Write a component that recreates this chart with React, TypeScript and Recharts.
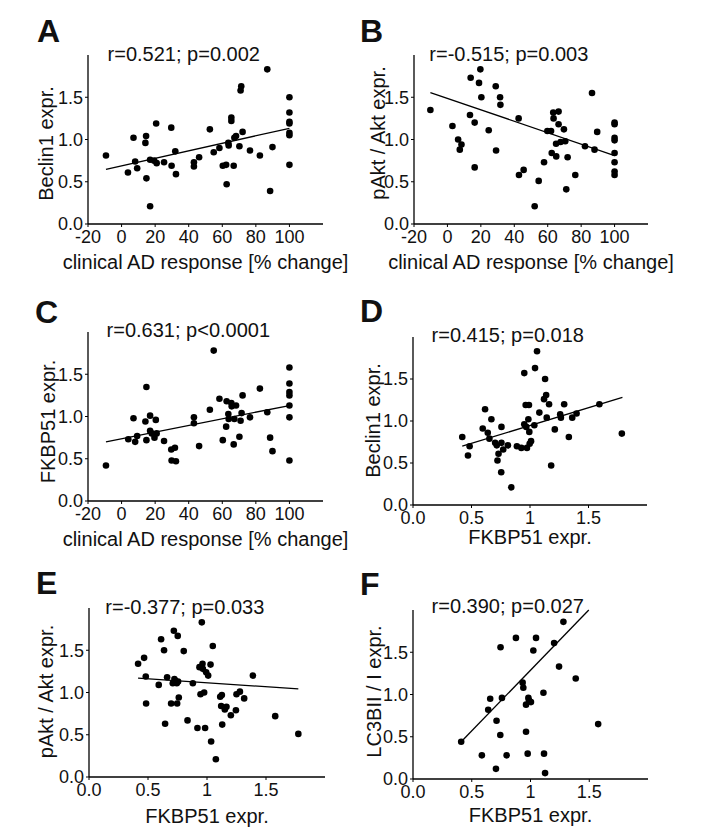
import { Scatter, ScatterChart, XAxis, YAxis } from 'recharts';

const FONT = '"Liberation Sans", Arial, Helvetica, sans-serif';
const INK = '#111';

// A: clinical AD response vs Beclin1
const responseA = [-9.3, 3.8, 7.1, 8.1, 9.3, 14.6, 14.2, 14.8, 17.0, 17.0, 19.4, 20.6, 20.9, 25.3, 29.6, 29.8, 32.0, 32.4, 43.1, 43.1, 46.2, 52.6, 54.9, 58.3, 60.3, 62.3, 62.6, 63.6, 63.8, 65.4, 65.4, 66.8, 67.2, 68.2, 70.2, 71.3, 70.9, 72.1, 76.5, 82.4, 86.8, 88.5, 89.9, 100, 100, 100, 100, 100, 100, 100];
const beclinA = [0.81, 0.61, 1.02, 0.74, 0.66, 1.04, 0.96, 0.54, 0.21, 0.76, 0.75, 1.19, 0.72, 0.73, 1.14, 0.69, 0.86, 0.59, 0.73, 0.68, 0.79, 1.12, 0.85, 0.9, 0.69, 0.7, 0.47, 0.96, 0.93, 1.26, 1.22, 0.69, 1.02, 1.04, 0.92, 1.63, 1.58, 1.09, 0.87, 0.81, 1.83, 0.39, 0.91, 1.5, 1.32, 1.21, 1.19, 1.08, 1.05, 0.7];
const fitXA = [-9.3, 100];
const fitYA = [0.647, 1.133];

// B: clinical AD response vs pAkt/Akt
const responseB = [-10.2, 3.0, 6.4, 7.4, 8.4, 13.5, 13.9, 16.3, 16.3, 18.9, 19.7, 20.3, 24.7, 28.9, 29.1, 31.5, 31.7, 42.6, 42.8, 45.6, 52.2, 54.6, 57.8, 59.8, 62.0, 62.4, 63.3, 63.5, 65.0, 65.1, 66.5, 66.5, 67.7, 69.7, 70.5, 71.1, 71.9, 76.5, 82.3, 86.5, 88.0, 89.6, 100, 100, 100, 100, 100, 100, 100, 100];
const paktB = [1.35, 1.16, 1.0, 0.88, 0.94, 1.29, 1.73, 1.2, 0.67, 1.67, 1.83, 1.5, 1.11, 1.63, 0.87, 1.5, 1.41, 1.25, 0.58, 0.64, 0.21, 0.51, 0.73, 1.1, 1.1, 0.84, 1.32, 1.25, 0.95, 0.8, 1.33, 1.18, 0.97, 1.12, 0.98, 0.41, 0.79, 0.58, 0.92, 1.55, 0.88, 1.09, 1.2, 1.18, 1.02, 0.99, 0.84, 0.73, 0.62, 0.58];
const fitXB = [-10.2, 100];
const fitYB = [1.556, 0.81];

// C: clinical AD response vs FKBP51
const responseC = [-9.3, 4.0, 7.1, 8.1, 9.3, 14.2, 14.8, 14.8, 17.0, 17.0, 18.0, 19.6, 20.4, 20.9, 25.3, 29.6, 29.8, 31.8, 32.4, 43.1, 43.1, 46.2, 52.6, 54.9, 58.3, 60.3, 62.3, 62.6, 63.6, 63.8, 65.4, 65.6, 66.8, 67.2, 68.2, 70.2, 70.9, 71.5, 72.1, 76.5, 82.4, 86.8, 88.5, 89.9, 100, 100, 100, 100, 100, 100, 100];
const fkbpC = [0.42, 0.73, 0.98, 0.7, 0.77, 0.94, 1.35, 0.72, 1.01, 0.83, 0.8, 0.75, 0.96, 0.8, 0.71, 0.61, 0.48, 0.63, 0.47, 0.99, 0.92, 0.65, 1.08, 1.78, 1.21, 0.72, 0.88, 1.18, 1.03, 0.97, 1.16, 1.12, 0.67, 0.97, 1.13, 0.76, 0.95, 1.04, 1.25, 0.99, 1.33, 1.05, 0.75, 0.59, 1.58, 1.39, 1.29, 1.25, 1.13, 0.99, 0.48];
const fitXC = [-9.3, 100];
const fitYC = [0.7, 1.13];

// D: FKBP51 vs Beclin1
const fkbpD = [0.421, 0.47, 0.484, 0.596, 0.616, 0.639, 0.653, 0.67, 0.702, 0.716, 0.722, 0.731, 0.754, 0.756, 0.756, 0.771, 0.811, 0.84, 0.888, 0.926, 0.951, 0.951, 0.963, 0.968, 0.974, 0.991, 0.986, 0.994, 0.997, 1.009, 1.037, 1.043, 1.06, 1.08, 1.12, 1.129, 1.138, 1.143, 1.163, 1.181, 1.212, 1.258, 1.264, 1.292, 1.332, 1.361, 1.398, 1.593, 1.785];
const beclinD = [0.81, 0.59, 0.7, 0.91, 1.14, 0.86, 0.79, 1.02, 0.74, 0.71, 0.53, 0.61, 0.39, 0.93, 0.74, 0.66, 0.71, 0.21, 0.7, 0.68, 1.57, 0.96, 1.19, 0.93, 0.68, 1.19, 1.02, 0.87, 0.73, 0.76, 0.95, 1.63, 1.83, 1.1, 1.26, 1.5, 1.31, 1.04, 1.2, 0.47, 0.9, 1.08, 1.04, 1.2, 0.81, 1.04, 1.09, 1.2, 0.85];
const fitXD = [0.421, 1.79];
const fitYD = [0.7, 1.28];

// E: FKBP51 vs pAkt/Akt
const fkbpE = [0.416, 0.467, 0.481, 0.484, 0.591, 0.611, 0.636, 0.645, 0.662, 0.696, 0.71, 0.719, 0.724, 0.73, 0.747, 0.752, 0.744, 0.755, 0.761, 0.803, 0.835, 0.88, 0.919, 0.936, 0.945, 0.956, 0.962, 0.965, 0.976, 0.984, 0.993, 1.01, 1.03, 1.035, 1.049, 1.075, 1.112, 1.12, 1.126, 1.129, 1.151, 1.165, 1.202, 1.245, 1.25, 1.279, 1.315, 1.389, 1.578, 1.774];
const paktE = [1.34, 1.41, 1.19, 0.87, 1.09, 1.63, 1.5, 0.63, 1.18, 0.87, 1.11, 1.73, 1.16, 1.14, 0.87, 1.67, 1.11, 1.13, 0.94, 1.49, 0.67, 1.11, 0.58, 1.3, 0.98, 1.83, 1.34, 1.28, 1.0, 0.58, 1.24, 1.2, 1.33, 0.42, 1.55, 0.21, 0.95, 0.84, 0.97, 0.62, 0.8, 0.83, 0.73, 0.79, 0.98, 1.01, 0.93, 1.2, 0.72, 0.51];
const fitXE = [0.416, 1.774];
const fitYE = [1.169, 1.043];

// F: FKBP51 vs LC3BII/I
const fkbpF = [0.41, 0.586, 0.64, 0.657, 0.706, 0.711, 0.743, 0.745, 0.757, 0.797, 0.876, 0.933, 0.939, 0.962, 0.962, 0.976, 0.982, 0.987, 1.004, 1.024, 1.047, 1.11, 1.115, 1.124, 1.201, 1.243, 1.28, 1.385, 1.576];
const lc3F = [0.44, 0.28, 0.82, 0.95, 0.12, 0.69, 0.52, 1.56, 0.96, 0.28, 1.67, 1.14, 1.08, 0.56, 0.88, 0.3, 0.96, 0.93, 0.91, 1.52, 1.67, 1.02, 0.3, 0.07, 1.61, 1.33, 1.86, 1.19, 0.65];
const fitXF = [0.41, 1.496];
const fitYF = [0.44, 2.0];

const responseTicks = [-20, 0, 20, 40, 60, 80, 100];
const fkbpTicks = [0, 0.5, 1, 1.5];
const exprTicks = [0, 0.5, 1, 1.5];

const toPoints = (xs: number[], ys: number[]) =>
  xs.slice(0, ys.length).map((x, i) => ({ x, y: ys[i] }));

function Dot(props: any) {
  const { cx, cy } = props;
  if (cx == null || cy == null) return <g />;
  return <circle cx={cx} cy={cy} r={3.3} fill="#000" />;
}

function NoDot() {
  return <g />;
}

interface Box {
  l: number;
  t: number;
  r: number;
  b: number;
}

interface PanelProps {
  box: Box;
  points: { x: number; y: number }[];
  fit: { x: number; y: number }[];
  xDomain: [number, number];
  xTicks: number[];
  xFormat: (v: number) => string;
  xLabel: string;
  xLabelBaseline: number;
}

const YW = 75;
const MT = 10;
const MR = 45;
const XH = 50;

function Panel({ box, points, fit, xDomain, xTicks, xFormat, xLabel, xLabelBaseline }: PanelProps) {
  const width = box.r - box.l + YW + MR;
  const height = box.b - box.t + MT + XH;
  const axisStyle = { stroke: '#000', strokeWidth: 1.3 };
  const tickStyle = { fill: INK, fontSize: 18, fontFamily: FONT };
  return (
    <div style={{ position: 'absolute', left: box.l - YW, top: box.t - MT }}>
      <ScatterChart width={width} height={height} margin={{ top: MT, right: MR, left: 0, bottom: 0 }}>
        <XAxis
          type="number"
          dataKey="x"
          domain={xDomain}
          ticks={xTicks}
          tickFormatter={xFormat}
          height={XH}
          axisLine={axisStyle}
          tickLine={{ stroke: '#000', strokeWidth: 1 }}
          tickSize={3}
          tickMargin={3}
          tick={tickStyle}
          label={{
            value: xLabel,
            position: 'insideBottom',
            offset: box.b + XH - xLabelBaseline,
            fill: INK,
            fontSize: 20,
            fontFamily: FONT,
          }}
        />
        <YAxis
          type="number"
          dataKey="y"
          domain={[0, 2]}
          ticks={exprTicks}
          tickFormatter={(v: number) => v.toFixed(1)}
          width={YW}
          axisLine={axisStyle}
          tickLine={{ stroke: '#000', strokeWidth: 1 }}
          tickSize={3}
          tickMargin={2}
          tick={tickStyle}
        />
        <Scatter data={points} shape={Dot} isAnimationActive={false} />
        <Scatter
          data={fit}
          shape={NoDot}
          line={{ stroke: '#000', strokeWidth: 1.3 }}
          isAnimationActive={false}
        />
      </ScatterChart>
    </div>
  );
}

const fmtResponse = (v: number) => String(v);
const fmtFkbp = (v: number) => (v === 1 ? '1' : v.toFixed(1));

const RESPONSE_LABEL = 'clinical AD response [% change]';
const FKBP_LABEL = 'FKBP51 expr.';

// letter, stat text and y-axis titles per panel
const letters = ['A', 'B', 'C', 'D', 'E', 'F'];
const stats = [
  'r=0.521; p=0.002',
  'r=-0.515; p=0.003',
  'r=0.631; p<0.0001',
  'r=0.415; p=0.018',
  'r=-0.377; p=0.033',
  'r=0.390; p=0.027',
];
const yTitles = ['Beclin1 expr.', 'pAkt / Akt expr.', 'FKBP51 expr.', 'Beclin1 expr.', 'pAkt / Akt expr.', 'LC3BII / I expr.'];

const letterPos = [
  [37, 42],
  [360, 42],
  [35, 322.5],
  [360, 322],
  [36, 594],
  [360, 595],
];
const statPos = [
  [107.6, 61],
  [429.3, 61],
  [106.6, 336.5],
  [431.6, 341.5],
  [105.3, 614],
  [431.6, 613],
];
const yTitlePos = [
  [46.2, 143.5],
  [377.7, 133],
  [47.9, 421.5],
  [372.9, 420.5],
  [45.4, 691.5],
  [373.4, 691.5],
];

export default function App() {
  return (
    <div
      style={{
        position: 'absolute',
        left: 0,
        top: 0,
        width: 718,
        height: 833,
        background: '#fff',
        overflow: 'hidden',
      }}
    >
      <Panel
        box={{ l: 88, t: 55, r: 323, b: 224 }}
        points={toPoints(responseA, beclinA)}
        fit={toPoints(fitXA, fitYA)}
        xDomain={[-20, 120]}
        xTicks={responseTicks}
        xFormat={fmtResponse}
        xLabel={RESPONSE_LABEL}
        xLabelBaseline={269}
      />
      <Panel
        box={{ l: 414, t: 55, r: 648, b: 224 }}
        points={toPoints(responseB, paktB)}
        fit={toPoints(fitXB, fitYB)}
        xDomain={[-20, 120]}
        xTicks={responseTicks}
        xFormat={fmtResponse}
        xLabel={RESPONSE_LABEL}
        xLabelBaseline={268.5}
      />
      <Panel
        box={{ l: 88, t: 332, r: 323, b: 501 }}
        points={toPoints(responseC, fkbpC)}
        fit={toPoints(fitXC, fitYC)}
        xDomain={[-20, 120]}
        xTicks={responseTicks}
        xFormat={fmtResponse}
        xLabel={RESPONSE_LABEL}
        xLabelBaseline={546}
      />
      <Panel
        box={{ l: 413, t: 337, r: 647, b: 505 }}
        points={toPoints(fkbpD, beclinD)}
        fit={toPoints(fitXD, fitYD)}
        xDomain={[0, 2]}
        xTicks={fkbpTicks}
        xFormat={fmtFkbp}
        xLabel={FKBP_LABEL}
        xLabelBaseline={544}
      />
      <Panel
        box={{ l: 89, t: 608, r: 325, b: 777 }}
        points={toPoints(fkbpE, paktE)}
        fit={toPoints(fitXE, fitYE)}
        xDomain={[0, 2]}
        xTicks={fkbpTicks}
        xFormat={fmtFkbp}
        xLabel={FKBP_LABEL}
        xLabelBaseline={822.5}
      />
      <Panel
        box={{ l: 413, t: 610, r: 648, b: 779 }}
        points={toPoints(fkbpF, lc3F)}
        fit={toPoints(fitXF, fitYF)}
        xDomain={[0, 2]}
        xTicks={fkbpTicks}
        xFormat={fmtFkbp}
        xLabel={FKBP_LABEL}
        xLabelBaseline={821.5}
      />
      <svg
        width={718}
        height={833}
        style={{ position: 'absolute', left: 0, top: 0, pointerEvents: 'none' }}
      >
        {letters.map((l, i) => (
          <text
            key={l}
            x={letterPos[i][0]}
            y={letterPos[i][1]}
            fontFamily={FONT}
            fontWeight="bold"
            fontSize={32}
            fill={INK}
          >
            {l}
          </text>
        ))}
        {stats.map((s, i) => (
          <text key={s} x={statPos[i][0]} y={statPos[i][1]} fontFamily={FONT} fontSize={20} fill={INK}>
            {s}
          </text>
        ))}
        {yTitles.map((t, i) => (
          <text
            key={`${t}-${i}`}
            transform={`translate(${yTitlePos[i][0] + 7.1},${yTitlePos[i][1]}) rotate(-90)`}
            textAnchor="middle"
            fontFamily={FONT}
            fontSize={20}
            fill={INK}
          >
            {t}
          </text>
        ))}
      </svg>
    </div>
  );
}
